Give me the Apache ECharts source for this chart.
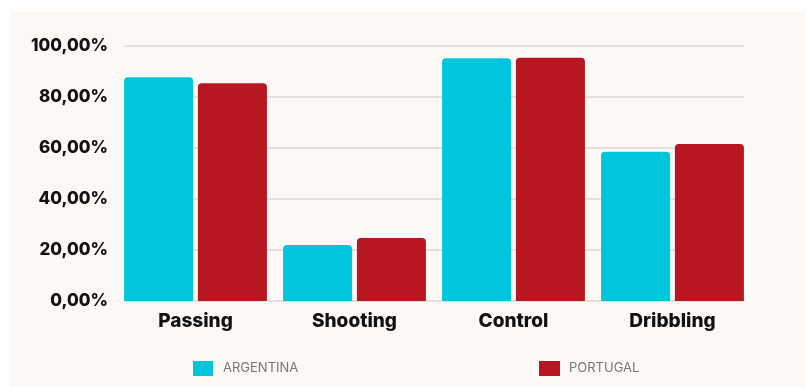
<!DOCTYPE html>
<html><head><meta charset="utf-8">
<script src="https://cdn.jsdelivr.net/npm/echarts@6/dist/echarts.min.js"></script>
<style>html,body{margin:0;padding:0;background:#fff}#c{width:806px;height:387px}</style>
</head><body><div id="c"></div>
<script>
const categories = ['Passing', 'Shooting', 'Control', 'Dribbling'];
const argentina = [87.7, 22.0, 95.2, 58.5];
const portugal = [85.4, 24.7, 95.4, 61.6];
const yTicks = [0, 20, 40, 60, 80, 100];

const chart = echarts.init(document.getElementById('c'));
const FONT = 'Inter, "Open Sans", sans-serif';
chart.setOption({
  animation: false,
  backgroundColor: '#ffffff',
  graphic: [{type: 'rect', shape: {x: 10, y: 11, width: 796, height: 376}, style: {fill: '#fcf8f6'}, z: -10}],
  grid: [
    {left: 124, right: 62, top: 46, bottom: 86},
    {left: 116, right: 54, top: 46, bottom: 86}
  ],
  legend: [
    {data: ['ARGENTINA'], left: 193, top: 361, padding: 0, itemWidth: 20, itemHeight: 15, itemGap: 10,
     textStyle: {color: '#777', fontSize: 13, fontFamily: FONT, padding: [0, 0, 0, 5]}, icon: 'rect'},
    {data: ['PORTUGAL'], left: 539, top: 361, padding: 0, itemWidth: 21, itemHeight: 15, itemGap: 10,
     textStyle: {color: '#777', fontSize: 13, fontFamily: FONT, padding: [0, 0, 0, 4]}, icon: 'rect'}
  ],
  xAxis: [
    {type: 'category', gridIndex: 0, data: categories, show: false},
    {type: 'category', gridIndex: 1, data: categories,
     axisLine: {show: false}, axisTick: {show: false},
     axisLabel: {color: '#111', fontSize: 19, fontWeight: 800, fontFamily: FONT, margin: 11}}
  ],
  yAxis: [
    {type: 'value', gridIndex: 0, min: yTicks[0], max: yTicks[yTicks.length - 1], interval: 20,
     axisLabel: {show: false}, axisLine: {show: false}, axisTick: {show: false},
     splitLine: {show: true, lineStyle: {color: '#dcd6d3', width: 1.5}}},
    {type: 'value', gridIndex: 1, min: yTicks[0], max: yTicks[yTicks.length - 1], interval: 20,
     splitLine: {show: false}, axisLine: {show: false}, axisTick: {show: false},
     axisLabel: {color: '#111', fontSize: 17, fontWeight: 800, fontFamily: FONT, margin: 8,
       formatter: v => v.toFixed(2).replace('.', ',') + '%'}}
  ],
  series: [
    {name: 'ARGENTINA', type: 'bar', xAxisIndex: 1, yAxisIndex: 1, data: argentina,
     barWidth: 69, barGap: '7%', itemStyle: {color: '#00c5dc', borderRadius: [4, 4, 0, 0]}},
    {name: 'PORTUGAL', type: 'bar', xAxisIndex: 1, yAxisIndex: 1, data: portugal,
     barWidth: 69, barGap: '7%', itemStyle: {color: '#b81620', borderRadius: [4, 4, 0, 0]}}
  ]
});
</script></body></html>
